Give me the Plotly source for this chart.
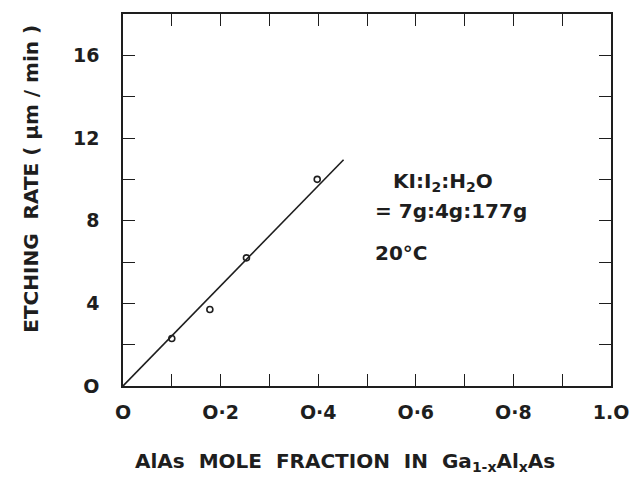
import plotly.graph_objects as go

# data
x_pts = [0.10, 0.178, 0.253, 0.398]
y_pts = [2.3, 3.7, 6.2, 10.0]
fit_x = [0.0, 0.452]
fit_y = [0.0, 10.95]

x_tickvals = [0, 0.2, 0.4, 0.6, 0.8, 1.0]
x_ticktext = ["O", "O·2", "O·4", "O·6", "O·8", "1.O"]
y_tickvals = [0, 4, 8, 12, 16]
y_ticktext = ["O", "4", "8", "12", "16"]

x_title = "<b>AlAs  MOLE  FRACTION  IN  Ga<sub>1-x</sub>Al<sub>x</sub>As</b>"
y_title = "<b>ETCHING  RATE ( μm / min )</b>"
note_lines = ["KI:I<sub>2</sub>:H<sub>2</sub>O", "= 7g:4g:177g", "20°C"]

ink = "#1e1e1e"
font = "DejaVu Sans, Liberation Sans, Arial, sans-serif"

fig = go.Figure()
fig.add_trace(go.Scatter(x=fit_x, y=fit_y, mode="lines",
                         line=dict(color=ink, width=1.6), showlegend=False))
fig.add_trace(go.Scatter(x=x_pts, y=y_pts, mode="markers",
                         marker=dict(symbol="circle-open", size=6, color=ink,
                                     line=dict(width=1.6)), showlegend=False))

axis_common = dict(showgrid=False, zeroline=False, showline=True, linecolor=ink,
                   linewidth=1.6, mirror="allticks", ticks="inside", ticklen=12,
                   tickwidth=1.3, tickcolor=ink,
                   tickfont=dict(family=font, size=19, color=ink, weight="bold"))

fig.update_xaxes(range=[0, 1.0], tickmode="array", tickvals=x_tickvals,
                 ticktext=x_ticktext, ticklabelstandoff=8,
                 minor=dict(dtick=0.1, ticks="inside", ticklen=12, tickwidth=1.3,
                            tickcolor=ink, showgrid=False),
                 **axis_common)
fig.update_yaxes(range=[0, 18], tickmode="array", tickvals=y_tickvals,
                 ticktext=y_ticktext, ticklabelstandoff=18,
                 minor=dict(dtick=2, ticks="inside", ticklen=12, tickwidth=1.3,
                            tickcolor=ink, showgrid=False),
                 **axis_common)

fig.update_layout(
    width=641, height=478,
    margin=dict(l=123, r=23, t=13, b=92),
    plot_bgcolor="white", paper_bgcolor="white",
    font=dict(family=font, color=ink),
)

# axis titles
fig.add_annotation(x=0.4545, y=-0.205, xref="paper", yref="paper",
                   xanchor="center", yanchor="middle", text=x_title, showarrow=False,
                   font=dict(family=font, size=20, color=ink))
fig.add_annotation(x=-0.188, y=0.558, xref="paper", yref="paper", textangle=-90,
                   xanchor="center", yanchor="middle", text=y_title, showarrow=False,
                   font=dict(family=font, size=20, color=ink))

ann_font = dict(family=font, size=20, color=ink, weight="bold")
fig.add_annotation(x=0.549, y=9.85, xref="x", yref="y", xanchor="left",
                   text=note_lines[0], showarrow=False, font=ann_font)
fig.add_annotation(x=0.513, y=8.49, xref="x", yref="y", xanchor="left",
                   text=note_lines[1], showarrow=False, font=ann_font)
fig.add_annotation(x=0.513, y=6.42, xref="x", yref="y", xanchor="left",
                   text=note_lines[2], showarrow=False, font=ann_font)

fig.write_html("out.html")
